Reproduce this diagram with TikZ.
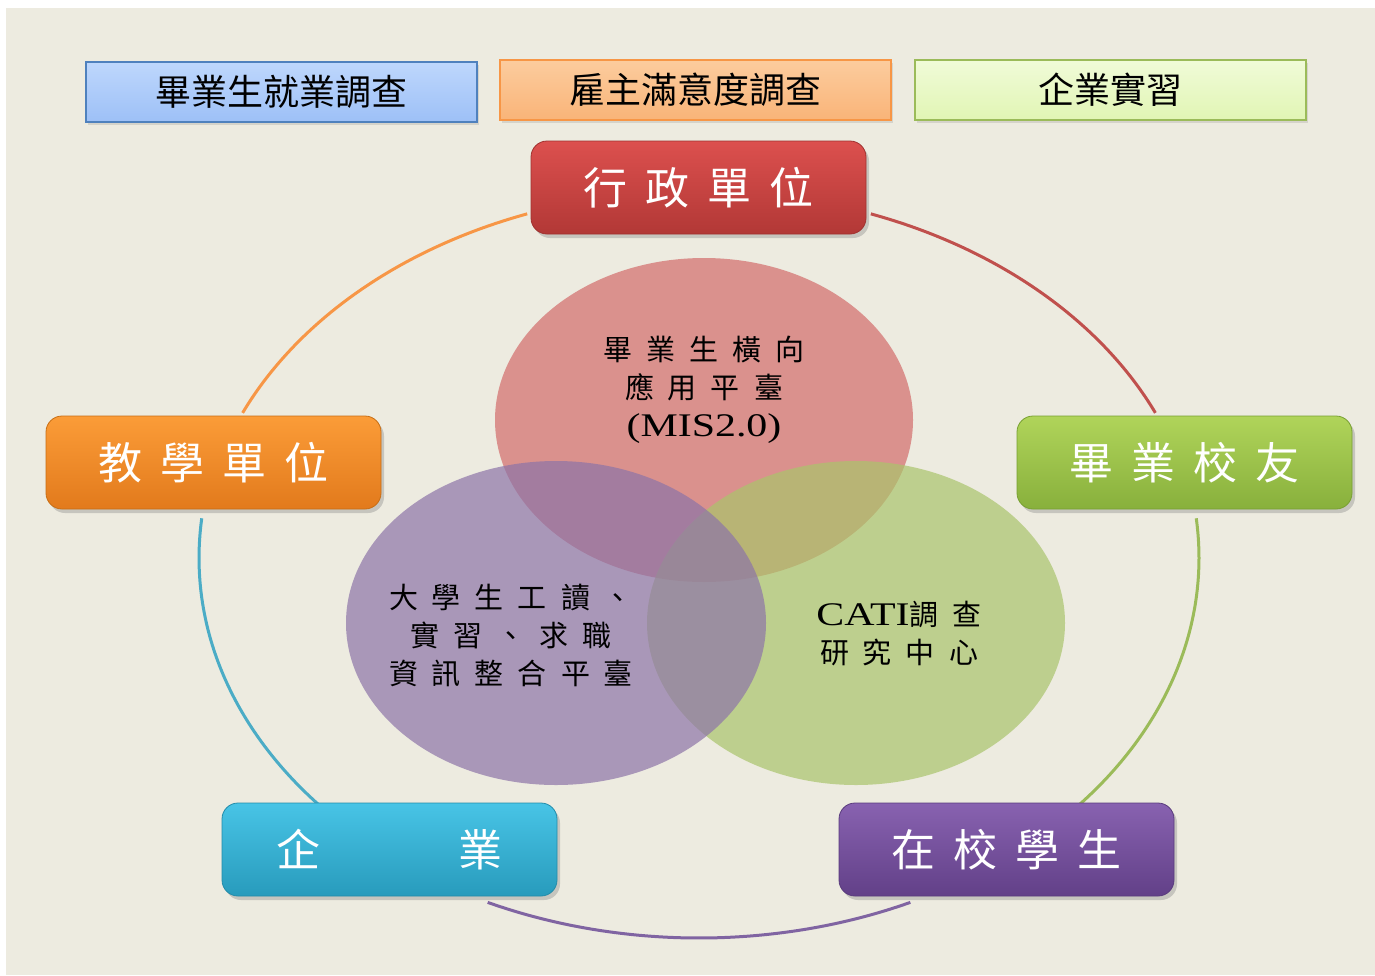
\documentclass[tikz,border=0pt]{standalone}
\usepackage{fontspec}
\setmainfont{Liberation Serif}
\newfontfamily\cjk{Noto Sans CJK TC}
\newfontfamily\wserif[FakeStretch=1.27]{Liberation Serif}
\usetikzlibrary{shadows}
\makeatletter
\newcommand\spreadtxt[2]{\def\spr@gap{#1}\spr@loop#2\relax}
\def\spr@loop#1{\ifx#1\relax\kern-\spr@gap\relax\else#1\kern\spr@gap\relax\expandafter\spr@loop\fi}
\makeatother
\definecolor{bgbeige}{HTML}{EDEBE0}
\definecolor{arcO}{HTML}{F79646}
\definecolor{arcR}{HTML}{C0504D}
\definecolor{arcG}{HTML}{9BBB59}
\definecolor{arcP}{HTML}{8064A2}
\definecolor{arcC}{HTML}{4BACC6}
\definecolor{vR}{RGB}{210,108,107}
\definecolor{vP}{RGB}{141,116,168}
\definecolor{vG}{RGB}{170,196,108}
\tikzset{
  bigbox/.style={rounded corners=16pt, minimum width=335pt, minimum height=93pt,
    line width=0.8pt, text=white, inner sep=0pt,
    drop shadow={shadow xshift=3pt, shadow yshift=-4pt, opacity=0.35},
    font=\cjk\fontsize{44}{44}\selectfont},
  topbox/.style={minimum width=391pt, minimum height=60pt, line width=1.8pt,
    text=black, inner sep=0pt,
    drop shadow={shadow xshift=2pt, shadow yshift=-3pt, opacity=0.22},
    font=\cjk\fontsize{36}{36}\selectfont},
  arcline/.style={line width=3pt},
  venn/.style={fill opacity=0.7},
  venntext/.style={align=center, text=black, inner sep=0pt,
    font=\cjk\fontsize{29}{38}\selectfont},
}
\begin{document}
\begin{tikzpicture}[x=1pt,y=-1pt]
\useasboundingbox (0,0) rectangle (1375,975);
\fill[white] (0,0) rectangle (1375,975);
\fill[bgbeige] (6,8) rectangle (1375,975);

% outer ellipse arcs
\draw[arcline, arcO] plot[domain=-155.9:-110.1, samples=40, smooth] ({699+500*cos(\x)},{566+375*sin(\x)});
\draw[arcline, arcR] plot[domain=-69.9:-24.1, samples=40, smooth] ({699+500*cos(\x)},{566+375*sin(\x)});
\draw[arcline, arcG] plot[domain=-6:41, samples=40, smooth] ({699+500*cos(\x)},{558+380*sin(\x)});
\draw[arcline, arcP] plot[domain=65:115, samples=40, smooth] ({699+500*cos(\x)},{558+380*sin(\x)});
\draw[arcline, arcC] plot[domain=139:186, samples=40, smooth] ({699+500*cos(\x)},{558+380*sin(\x)});

% Venn circles
\fill[venn, vR] (704,420) ellipse [x radius=209pt, y radius=162pt];
\fill[venn, vG] (856,623) ellipse [x radius=209pt, y radius=162pt];
\fill[venn, vP] (556,623) ellipse [x radius=210pt, y radius=162pt];

\node[venntext] (tMIS) at (704,390) {\spreadtxt{14pt}{畢業生橫向}\\\spreadtxt{14pt}{應用平臺}\\{\wserif\fontsize{33}{38}\selectfont (MIS2.0)}};
\node[venntext] (tPlat) at (511,635) {\spreadtxt{14pt}{大學生工讀、}\\\spreadtxt{14pt}{實習、求職}\\\spreadtxt{14pt}{資訊整合平臺}};
\node[venntext] (tCATI) at (899,634) {{\wserif\fontsize{33}{38}\selectfont CATI}\spreadtxt{14pt}{調查}\\\spreadtxt{14pt}{研究中心}};

% top boxes
\node[topbox, draw={rgb,255:red,79;green,129;blue,189}, top color={rgb,255:red,190;green,215;blue,252}, bottom color={rgb,255:red,157;green,192;blue,247}] (b1) at (281.5,92) {畢業生就業調查};
\node[topbox, draw=arcO, top color={rgb,255:red,252;green,204;blue,158}, bottom color={rgb,255:red,249;green,180;blue,120}] (b2) at (695.5,90) {雇主滿意度調查};
\node[topbox, draw=arcG, top color={rgb,255:red,240;green,251;blue,216}, bottom color={rgb,255:red,225;green,245;blue,180}] (b3) at (1110.5,90) {企業實習};

% main boxes
\node[bigbox, draw={rgb,255:red,160;green,50;blue,48}, top color={rgb,255:red,220;green,80;blue,78}, bottom color={rgb,255:red,178;green,56;blue,54}] (admin) at (698.5,187.5) {\spreadtxt{18pt}{行政單位}};
\node[bigbox, draw={rgb,255:red,200;green,110;blue,20}, top color={rgb,255:red,251;green,156;blue,56}, bottom color={rgb,255:red,226;green,122;blue,28}] (teach) at (213.5,462.5) {\spreadtxt{18pt}{教學單位}};
\node[bigbox, draw={rgb,255:red,120;green,160;blue,50}, top color={rgb,255:red,176;green,212;blue,90}, bottom color={rgb,255:red,136;green,176;blue,60}] (alumni) at (1184.5,462.5) {\spreadtxt{18pt}{畢業校友}};
\node[bigbox, draw={rgb,255:red,35;green,140;blue,170}, top color={rgb,255:red,72;green,196;blue,230}, bottom color={rgb,255:red,40;green,155;blue,188}] (ent) at (389.5,849.5) {企\kern138pt業};
\node[bigbox, draw={rgb,255:red,90;green,60;blue,125}, top color={rgb,255:red,136;green,98;blue,176}, bottom color={rgb,255:red,98;green,64;blue,136}] (stud) at (1006.5,849.5) {\spreadtxt{18pt}{在校學生}};
\end{tikzpicture}
\end{document}
